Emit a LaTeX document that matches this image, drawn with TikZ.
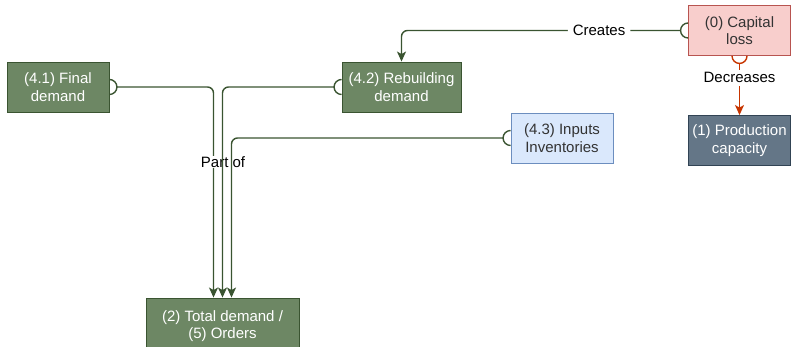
\documentclass[tikz,border=0pt]{standalone}
\usepackage{fontspec}
\setmainfont{Liberation Sans}
\usetikzlibrary{arrows.meta}
\definecolor{gfill}{HTML}{6D8764}
\definecolor{gline}{HTML}{3A5431}
\definecolor{pfill}{HTML}{F8CECC}
\definecolor{pline}{HTML}{B85450}
\definecolor{bfill}{HTML}{DAE8FC}
\definecolor{bline}{HTML}{6C8EBF}
\definecolor{sfill}{HTML}{647687}
\definecolor{sline}{HTML}{314354}
\definecolor{redge}{HTML}{C73500}
\definecolor{txt}{HTML}{333333}
\tikzset{
  box/.style={draw, line width=0.9pt, align=center, inner sep=0pt,
    minimum width=102pt, minimum height=50pt,
    font=\fontsize{15}{17.5}\selectfont},
  greenbox/.style={box, fill=gfill, draw=gline, text=white},
  pinkbox/.style={box, fill=pfill, draw=pline, text=txt},
  bluebox/.style={box, fill=bfill, draw=bline, text=txt},
  slatebox/.style={box, fill=sfill, draw=sline, text=white},
  link/.style={line width=1.4pt, draw=gline, rounded corners=6pt,
    -{Stealth[length=10pt,width=9pt,inset=2.5pt]}},
  halfc/.style={line width=1.4pt, draw=gline},
  lbl/.style={fill=white, inner xsep=5pt, inner ysep=3pt, text=black,
    font=\fontsize{15}{17.5}\selectfont}
}
\begin{document}
\begin{tikzpicture}[x=1pt,y=-1pt]
\useasboundingbox (0,0) rectangle (791,347);

% boxes
\node[greenbox] (fd)  at (58,87)     {(4.1) Final\\demand};
\node[greenbox, minimum width=119pt] (rb) at (401.5,87) {(4.2) Rebuilding\\demand};
\node[pinkbox]  (cl)  at (739.5,30.5) {(0) Capital\\loss};
\node[slatebox] (pc)  at (739.5,140.5) {(1) Production\\capacity};
\node[bluebox]  (inp) at (562,138)   {(4.3) Inputs\\Inventories};
\node[greenbox, minimum width=153pt, minimum height=56pt] (tot) at (222.5,326) {(2) Total demand /\\(5) Orders};

% half-circle start markers
\draw[halfc] ([yshift=7.5pt]fd.east) arc (90:-90:7.5pt);
\draw[halfc] ([yshift=7.5pt]rb.west) arc (90:270:7.5pt);
\draw[halfc] ([yshift=7.5pt]inp.west) arc (90:270:7.5pt);
\draw[halfc] ([yshift=7.5pt]cl.west) arc (90:270:7.5pt);
\draw[halfc, draw=redge] ([xshift=-7.5pt]cl.south) arc (180:360:7.5pt);

% Capital loss creates rebuilding demand
\draw[link] ([xshift=-7.5pt]cl.west) -| (rb.north)
  node[lbl, pos=0.146] {Creates};

% Capital loss decreases production capacity
\draw[link, draw=redge, rounded corners=0pt] ([yshift=-7.5pt]cl.south) -- (pc.north)
  node[lbl, pos=0.28] {Decreases};

% demand components feeding total demand
\draw[link] ([xshift=7.5pt]fd.east) -| ([xshift=-9pt]tot.north);
\node[lbl, inner sep=0.5pt] (partof) at (223,162) {Part of};
\draw[link] ([xshift=-7.5pt]rb.west) -| (tot.north);
\draw[link] ([xshift=-7.5pt]inp.west) -| ([xshift=9pt]tot.north);
\end{tikzpicture}
\end{document}
